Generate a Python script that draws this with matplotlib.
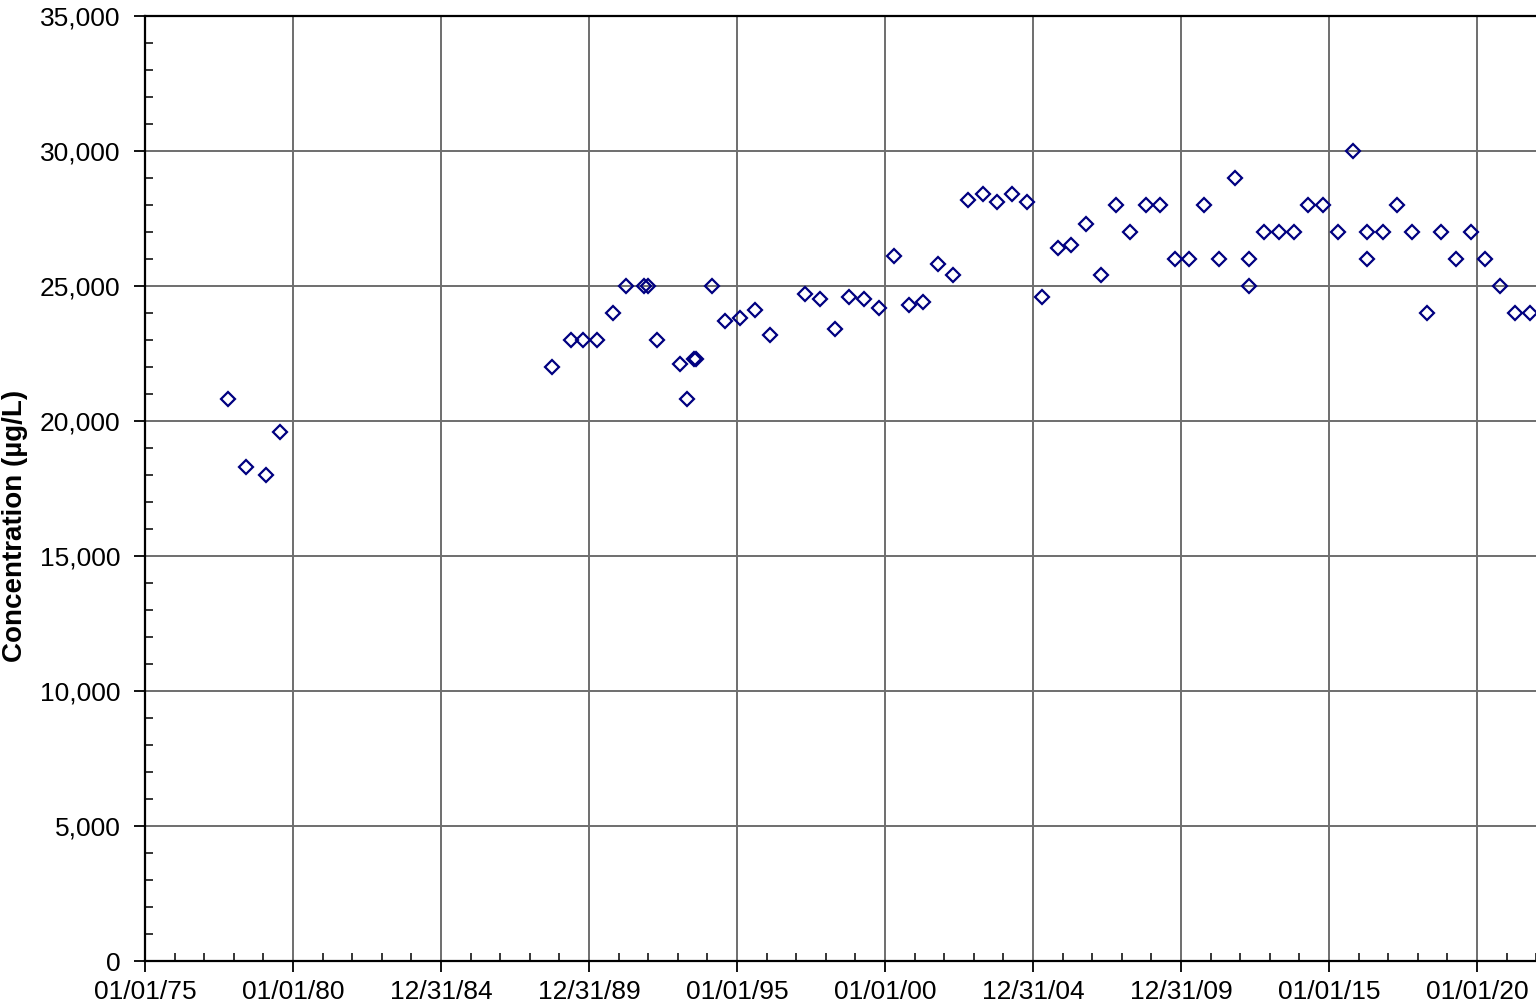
import matplotlib
matplotlib.use("Agg")
import matplotlib.pyplot as plt
import matplotlib.dates as mdates
import matplotlib.ticker as mticker
import pandas as pd

sample_dates = [
    "1977-10-19", "1978-05-30", "1979-02-03", "1979-07-24",
    "1988-10-01", "1989-05-22", "1989-10-19", "1990-04-08", "1990-10-23",
    "1991-04-01", "1991-11-10", "1991-12-28", "1992-04-20",
    "1993-01-26", "1993-04-23", "1993-07-19", "1993-08-10",
    "1994-02-28", "1994-08-04", "1995-02-07", "1995-08-11", "1996-02-10",
    "1997-04-20", "1997-10-19", "1998-04-23", "1998-10-12",
    "1999-04-16", "1999-10-19", "2000-04-20", "2000-10-23",
    "2001-04-13", "2001-10-16", "2002-04-20", "2002-10-19",
    "2003-04-23", "2003-10-12", "2004-04-16", "2004-10-19",
    "2005-04-20", "2005-11-03", "2006-04-13", "2006-10-16",
    "2007-04-20", "2007-10-19", "2008-04-13", "2008-10-27",
    "2009-04-16", "2009-10-19", "2010-04-09", "2010-10-12",
    "2011-04-13", "2011-10-27", "2012-04-20", "2012-04-20",
    "2012-10-19", "2013-04-23", "2013-10-27", "2014-04-16",
    "2014-10-19", "2015-04-20", "2015-10-23", "2016-04-20",
    "2016-04-20", "2016-10-30", "2017-04-20", "2017-10-19",
    "2018-04-23", "2018-10-12", "2019-04-16", "2019-10-19",
    "2020-04-09", "2020-10-12", "2021-04-13", "2021-10-16",
]
concentration = [
    20800, 18300, 18000, 19600,
    22000, 23000, 23000, 23000, 24000,
    25000, 25000, 25000, 23000,
    22100, 20800, 22300, 22300,
    25000, 23700, 23800, 24100, 23200,
    24700, 24500, 23400, 24600,
    24500, 24200, 26100, 24300,
    24400, 25800, 25400, 28200,
    28400, 28100, 28400, 28100,
    24600, 26400, 26500, 27300,
    25400, 28000, 27000, 28000,
    28000, 26000, 26000, 28000,
    26000, 29000, 26000, 25000,
    27000, 27000, 27000, 28000,
    28000, 27000, 30000, 27000,
    26000, 27000, 28000, 27000,
    24000, 27000, 26000, 27000,
    26000, 25000, 24000, 24000,
]

# Date axis: a major tick every 1826.25 days (five years) from 01/01/75,
# a minor tick every fifth of that
axis_start = "1975-01-01"
major_step_days = 1826.25
n_major = 11
y_max = 35000
y_major = 5000
y_minor = 1000

plt.rcParams["font.family"] = ["Liberation Sans", "DejaVu Sans"]

fig = plt.figure(figsize=(15.36, 10.05), dpi=100)
W, H = 1536, 1005
x0_px, y_top_px, y_bot_px = 145, 16, 961
px_per_major = 148
start_num = mdates.date2num(pd.Timestamp(axis_start))
x_end_num = start_num + (n_major - 1) * major_step_days
axes_width_px = (n_major - 1) * px_per_major
axes_height_px = y_bot_px - y_top_px
ax = fig.add_axes([x0_px / W, (H - y_bot_px) / H,
                   axes_width_px / W, axes_height_px / H])

x = mdates.date2num(pd.to_datetime(sample_dates))
ax.plot(x, concentration, linestyle="none", marker="D", markersize=7.4,
        markerfacecolor="none", markeredgecolor="#000080",
        markeredgewidth=1.6, zorder=3, clip_on=False)

ax.set_xlim(start_num, x_end_num)
ax.set_ylim(0, y_max)

major_x = [start_num + k * major_step_days for k in range(n_major)]
minor_x = [start_num + k * major_step_days / 5 for k in range(5 * (n_major - 1) + 1)]
ax.xaxis.set_major_locator(mticker.FixedLocator(major_x))
ax.xaxis.set_minor_locator(mticker.FixedLocator(minor_x))
ax.xaxis.set_major_formatter(mdates.DateFormatter("%m/%d/%y"))

ax.yaxis.set_major_locator(mticker.MultipleLocator(y_major))
ax.yaxis.set_minor_locator(mticker.MultipleLocator(y_minor))
ax.yaxis.set_major_formatter(mticker.FuncFormatter(lambda v, p: f"{int(v):,}"))

ax.grid(True, which="major", color="#6e6e6e", linewidth=1.4, zorder=1)
ax.set_axisbelow(True)

ax.tick_params(axis="both", which="major", direction="out", length=8,
               width=1.3, labelsize=19, color="black")
ax.tick_params(axis="x", which="major", pad=6)
ax.tick_params(axis="y", which="major", pad=9.5)
ax.tick_params(axis="both", which="minor", direction="in", length=6,
               width=1.1, color="black")

for side in ("left", "bottom", "top"):
    ax.spines[side].set_linewidth(1.6)
    ax.spines[side].set_color("black")
ax.spines["right"].set_visible(False)

ax.set_ylabel("Concentration (\u00b5g/L)", fontsize=20, fontweight="bold")
ax.yaxis.set_label_coords(-(x0_px - 28) / axes_width_px,
                          (y_bot_px - 526) / axes_height_px)

fig.savefig("out.png", dpi=100)
